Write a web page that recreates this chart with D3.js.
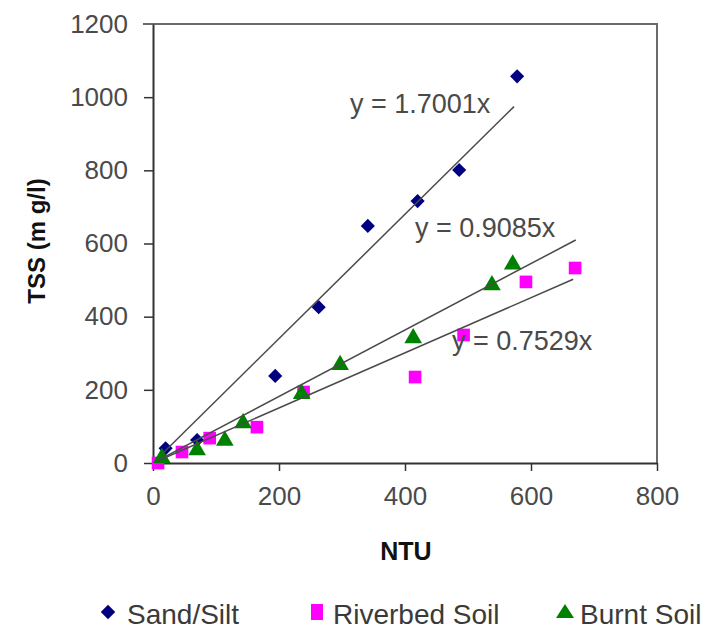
<!DOCTYPE html>
<html>
<head>
<meta charset="utf-8">
<script src="https://cdn.jsdelivr.net/npm/d3@7/dist/d3.min.js"></script>
<style>
  html, body { margin: 0; padding: 0; background: #fff; }
  svg { display: block; }
  text { font-family: "Liberation Sans", Arial, sans-serif; }
</style>
</head>
<body>
<svg id="chart" width="708" height="632"></svg>
<script>
// Turbidity (NTU) against total suspended solids (mg/l) for three soils
const seriesNames = ["Sand/Silt", "Riverbed Soil", "Burnt Soil"];
const seriesColors = ["#000080", "#ff00ff", "#008000"];

const sandNTU = [20, 70, 194, 263, 341, 420, 486, 578];
const sandTSS = [40, 63, 238, 426, 648, 716, 801, 1057];

const riverNTU = [8, 46, 90, 165, 239, 416, 493, 592, 670];
const riverTSS = [0, 30, 68, 98, 194, 235, 350, 495, 533];

const burntNTU = [14, 70, 114, 143, 236, 297, 413, 538, 571];
const burntTSS = [14, 35, 61, 109, 189, 268, 341, 486, 543];

// Trend lines forced through the origin: y = slope * x
const trendSlopes = [1.7001, 0.7529, 0.9085];
const trendFrom = [16, 8, 8];
const trendTo = [573, 667, 671];
const trendLabels = ["y = 1.7001x", "y = 0.7529x", "y = 0.9085x"];

const xTicks = [0, 200, 400, 600, 800];
const yTicks = [0, 200, 400, 600, 800, 1000, 1200];

const svg = d3.select("#chart");
const plotLeft = 153, plotRight = 657, plotTop = 24, plotBottom = 463;

const x = d3.scaleLinear().domain([0, 800]).range([plotLeft, plotRight]);
const y = d3.scaleLinear().domain([0, 1200]).range([plotBottom, plotTop]);

// plot frame (top and right edges)
svg.append("path")
  .attr("d", `M${plotLeft - 10},${plotTop}H${plotRight}V${plotBottom}`)
  .attr("fill", "none").attr("stroke", "#6a6a6a").attr("stroke-width", 2);

// axes
const fmt = d3.format("d");
const yAxis = svg.append("g").attr("transform", `translate(${plotLeft},0)`)
  .call(d3.axisLeft(y).tickValues(yTicks).tickFormat(fmt)
    .tickSize(9).tickPadding(16).tickSizeOuter(0));
const xAxis = svg.append("g").attr("transform", `translate(0,${plotBottom})`)
  .call(d3.axisBottom(x).tickValues(xTicks).tickFormat(fmt)
    .tickSize(8).tickPadding(16).tickSizeOuter(0));

[yAxis, xAxis].forEach(g => {
  g.select(".domain").attr("stroke", "#333").attr("stroke-width", 2);
  g.selectAll(".tick line").attr("stroke", "#333").attr("stroke-width", 1.5);
  g.selectAll(".tick text").attr("fill", "#4a4a4a")
    .style("font-size", "26px").style("font-family", "'Liberation Sans', Arial, sans-serif");
});
yAxis.selectAll(".tick").filter(d => d === 1200).select("line").remove();

// axis titles
svg.append("text")
  .attr("transform", "translate(45,241) rotate(-90)")
  .attr("text-anchor", "middle")
  .style("font-size", "24px").style("font-weight", "bold").attr("fill", "#111")
  .text("TSS (m g/l)");
svg.append("text")
  .attr("x", 406).attr("y", 560)
  .attr("text-anchor", "middle")
  .style("font-size", "25px").style("font-weight", "bold").attr("fill", "#111")
  .text("NTU");

// markers
const diamond = d3.symbol().type(d3.symbolSquare).size(100)();
const square = d3.symbol().type(d3.symbolSquare).size(160)();
const triangle = d3.symbol().type(d3.symbolTriangle).size(135)();

const datasets = [
  { xs: sandNTU, ys: sandTSS, path: diamond, rot: 45 },
  { xs: riverNTU, ys: riverTSS, path: square, rot: 0 },
  { xs: burntNTU, ys: burntTSS, path: triangle, rot: 0 }
];

datasets.forEach((ds, i) => {
  svg.append("g").selectAll("path")
    .data(ds.xs.map((v, k) => [v, ds.ys[k]]))
    .join("path")
    .attr("d", ds.path)
    .attr("transform", d => `translate(${x(d[0])},${y(d[1])}) rotate(${ds.rot})`)
    .attr("fill", seriesColors[i]);
});

// trend lines
const line = d3.line().x(d => x(d[0])).y(d => y(d[1]));
trendSlopes.forEach((m, i) => {
  svg.append("path")
    .attr("d", line([[trendFrom[i], m * trendFrom[i]], [trendTo[i], m * trendTo[i]]]))
    .attr("fill", "none").attr("stroke", "#4a4a4a").attr("stroke-width", 1.5);
});

// trend equations
const labelPos = [[350, 113], [452, 350], [415, 237]];
trendLabels.forEach((t, i) => {
  svg.append("text")
    .attr("x", labelPos[i][0]).attr("y", labelPos[i][1])
    .style("font-size", "27px").attr("fill", "#4a4a4a")
    .text(t);
});

// legend
const legendX = [108, 317, 565];
const legendTextX = [127, 333, 580];
const legendPaths = [
  d3.symbol().type(d3.symbolSquare).size(105)(),
  "M-6,-8H6V8H-6Z",
  "M-9,6L0,-8L9,6Z"
];
seriesNames.forEach((name, i) => {
  svg.append("path").attr("d", legendPaths[i])
    .attr("transform", `translate(${legendX[i]},612)` + (i === 0 ? " rotate(45)" : ""))
    .attr("fill", seriesColors[i]);
  svg.append("text").attr("x", legendTextX[i]).attr("y", 624)
    .style("font-size", "28px").attr("fill", "#3a3a3a")
    .text(name);
});
</script>
</body>
</html>
